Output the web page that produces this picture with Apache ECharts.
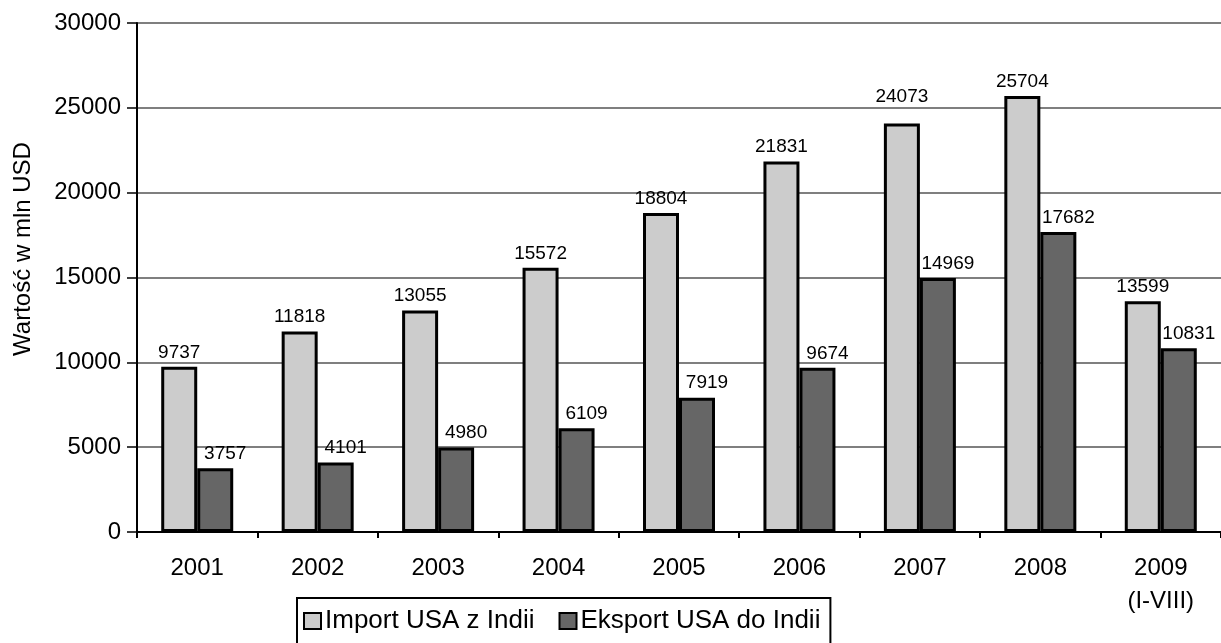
<!DOCTYPE html>
<html>
<head>
<meta charset="utf-8">
<script src="https://cdn.jsdelivr.net/npm/echarts@6/dist/echarts.min.js"></script>
<style>
html,body{margin:0;padding:0;background:#fff;}
#chart{width:1221px;height:643px;}
</style>
</head>
<body>
<div id="chart"></div>
<script>
const categories = ['2001','2002','2003','2004','2005','2006','2007','2008','2009\n(I-VIII)'];
const importUSA = [9737, 11818, 13055, 15572, 18804, 21831, 24073, 25704, 13599];
const exportUSA = [3757, 4101, 4980, 6109, 7919, 9674, 14969, 17682, 10831];
const seriesNames = ['Import USA z Indii', 'Eksport USA do Indii'];
const yAxisTitle = 'Wartość w mln USD';
const yMin = 0, yMax = 30000, yStep = 5000;

const FONT = '"Liberation Sans", Arial, Helvetica, sans-serif';
const chart = echarts.init(document.getElementById('chart'), null, {renderer: 'canvas'});

const option = {
  animation: false,
  backgroundColor: '#fff',
  textStyle: {fontFamily: FONT, color: '#000'},
  grid: {left: 137, top: 23, width: 1092, height: 509, containLabel: false},
  legend: {
    left: 297, top: 598,
    padding: [10, 10, 14, 6],
    borderColor: '#000', borderWidth: 2,
    itemWidth: 17, itemHeight: 16, itemGap: 24,
    textStyle: {fontSize: 26, color: '#000', fontFamily: FONT, padding: [0, 0, 0, -1]},
    data: seriesNames.map(n => ({name: n, icon: 'rect'}))
  },
  graphic: [{
    type: 'text', x: 23, y: 249, rotation: Math.PI / 2,
    style: {text: yAxisTitle, fontSize: 24, fontFamily: FONT, fill: '#000', align: 'center', verticalAlign: 'middle'}
  }],
  xAxis: {
    type: 'category', data: categories,
    axisLine: {lineStyle: {color: '#000', width: 2}},
    axisTick: {show: true, length: 6, lineStyle: {color: '#000', width: 2}},
    axisLabel: {fontSize: 24, color: '#000', fontFamily: FONT, margin: 20, lineHeight: 33, interval: 0},
    splitLine: {show: false}
  },
  yAxis: {
    type: 'value', min: yMin, max: yMax, interval: yStep,
    axisLine: {show: true, lineStyle: {color: '#000', width: 2}},
    axisTick: {show: true, length: 10, lineStyle: {color: '#000', width: 1.5}},
    axisLabel: {fontSize: 24, color: '#000', fontFamily: FONT, margin: 16, formatter: v => String(v)},
    splitLine: {show: true, lineStyle: {color: '#555', width: 1.5}}
  },
  series: [
    {
      name: seriesNames[0], type: 'bar', barWidth: 36, barGap: '0%',
      itemStyle: {color: '#cccccc', borderColor: '#000', borderWidth: 3},
      label: {show: true, position: 'top', distance: 5, fontSize: 19, color: '#000', fontFamily: FONT},
      data: importUSA.map((v, i) => i === 6 ? {value: v, label: {offset: [0, -12]}} : v)
    },
    {
      name: seriesNames[1], type: 'bar', barWidth: 36, barGap: '0%',
      itemStyle: {color: '#666666', borderColor: '#000', borderWidth: 3},
      label: {show: true, position: 'top', distance: 5, offset: [10, 0], fontSize: 19, color: '#000', fontFamily: FONT},
      data: exportUSA
    }
  ]
};
chart.setOption(option);
</script>
</body>
</html>
